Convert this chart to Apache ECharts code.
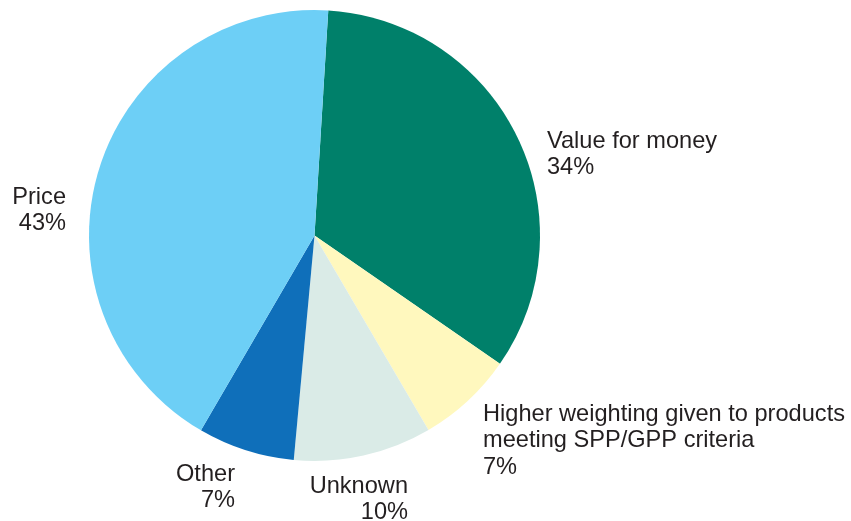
<!DOCTYPE html>
<html>
<head>
<meta charset="utf-8">
<script src="https://cdn.jsdelivr.net/npm/echarts@6/dist/echarts.min.js"></script>
<style>
  html, body { margin: 0; padding: 0; background: #fff; }
  #chart { width: 851px; height: 521px; }
</style>
</head>
<body>
<div id="chart"></div>
<script>
// slice names / values, clockwise from the top
const names = ['Value for money', 'Higher weighting given to products\nmeeting SPP/GPP criteria', 'Unknown', 'Other', 'Price'];
const values = [34, 7, 10, 7, 43];
const colors = ['#00806A', '#FFF8BE', '#DAEBE7', '#0F6FBA', '#6DCFF6'];

// where each label block sits (top corner) and how it is aligned
const labelPos = [
  { x: 547, y: 128, align: 'left' },
  { x: 483, y: 401, align: 'left' },
  { x: 408, y: 473, align: 'right' },
  { x: 235, y: 461, align: 'right' },
  { x: 66, y: 184, align: 'right' }
];

let chart = echarts.init(document.getElementById('chart'));
chart.setOption({
  animation: false,
  color: colors,
  series: [{
    type: 'pie',
    center: [314.5, 235.5],
    radius: [0, 225.5],
    startAngle: 86.5,
    clockwise: true,
    avoidLabelOverlap: false,
    itemStyle: { borderWidth: 0 },
    emphasis: { disabled: true },
    label: {
      show: true,
      position: 'outside',
      formatter: p => p.name + '\n' + p.value + '%',
      fontFamily: 'Liberation Sans, Arial, sans-serif',
      fontSize: 23.6,
      lineHeight: 26.5,
      color: '#231F20'
    },
    labelLine: { show: false },
    labelLayout: params => {
      const lp = labelPos[params.dataIndex];
      return {
        x: lp.x,
        y: lp.y,
        align: lp.align,
        verticalAlign: 'top',
        moveOverlap: false
      };
    },
    data: names.map((n, i) => ({ name: n, value: values[i] }))
  }]
});
</script>
</body>
</html>
